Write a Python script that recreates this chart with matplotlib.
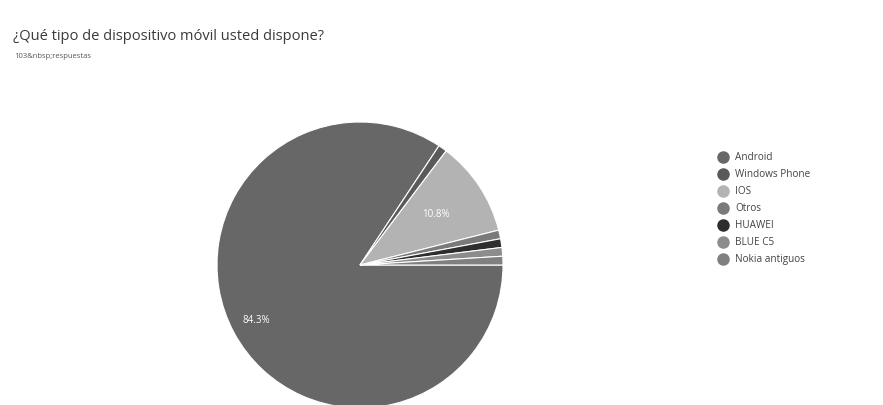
import numpy as np
import matplotlib.pyplot as plt
from matplotlib.lines import Line2D

# datos de la encuesta
labels = ['Android', 'Windows Phone', 'IOS', 'Otros', 'HUAWEI', 'BLUE C5', 'Nokia antiguos']
counts = [86, 1, 11, 1, 1, 1, 1]
colors = ['#676767', '#5a5a5a', '#b3b3b3', '#7a7a7a', '#2e2e2e', '#8c8c8c', '#808080']
title = '¿Qué tipo de dispositivo móvil usted dispone?'
subtitle = '103&nbsp;respuestas'

plt.rcParams['font.family'] = ['Open Sans', 'DejaVu Sans']

fig = plt.figure(figsize=(8.83, 4.05), dpi=100)
fig.text(13 / 883, 1 - 40 / 405, title, fontsize=10.5, color='#3a3a3a')
fig.text(14 / 883, 1 - 58 / 405, subtitle, fontsize=5.5, color='#555555')

ax = fig.add_axes([(360 - 143) / 883, 1 - 408 / 405, 286 / 883, 286 / 405])
wedges, texts, autotexts = ax.pie(
    counts, colors=colors, startangle=0, counterclock=False,
    autopct=lambda p: f'{p:.1f}%' if p > 5 else '',
    wedgeprops=dict(edgecolor='white', linewidth=0.8),
    textprops=dict(color='white', fontsize=7))

# acomodar etiquetas de porcentaje
dist = {0: 0.82, 2: 0.64}
for i, w in enumerate(wedges):
    if i in dist:
        th = np.deg2rad((w.theta1 + w.theta2) / 2)
        autotexts[i].set_position((dist[i] * np.cos(th), dist[i] * np.sin(th)))
ax.set_xlim(-1, 1)
ax.set_ylim(-1, 1)
ax.set_aspect('equal')
ax.axis('off')

handles = [Line2D([], [], marker='o', linestyle='', markersize=8, color=c) for c in colors]
fig.legend(handles, labels, loc='upper left', bbox_to_anchor=(713 / 883, 1 - 148 / 405),
           frameon=False, fontsize=7.2, labelcolor='#444444', handletextpad=0.6,
           labelspacing=0.6, handlelength=1.2, borderaxespad=0)

fig.savefig('out.png', dpi=100)
